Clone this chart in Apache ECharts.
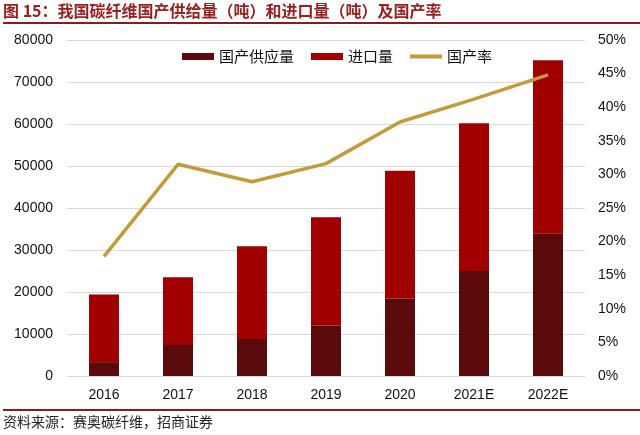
<!DOCTYPE html>
<html>
<head>
<meta charset="utf-8">
<script src="https://cdn.jsdelivr.net/npm/echarts@6/dist/echarts.min.js"></script>
<style>
  html, body { margin: 0; padding: 0; background: #fff; }
  #chart { width: 640px; height: 435px; }
</style>
</head>
<body>
<div id="chart"></div>
<script>
const years = ['2016', '2017', '2018', '2019', '2020', '2021E', '2022E']
const domestic = [3300, 7400, 8800, 12000, 18450, 25000, 34000]
const imports = [16100, 16100, 22100, 25800, 30400, 35200, 41200]
const rate = [17.8, 31.5, 28.9, 31.6, 37.8, 41.2, 44.8]

const leftTicks = { min: 0, max: 80000, interval: 10000 }
const rightTicks = { min: 0, max: 50, interval: 5 }

const chart = echarts.init(document.getElementById('chart'))

const labelFont = { fontFamily: 'Liberation Sans, Arial, sans-serif', fontSize: 14, color: '#111' }
const cjk = 'Noto Sans CJK SC, sans-serif'
// plain thick stroke for the line series legend
const lineIcon = 'path://M0,0 L32,0 L32,4 L0,4 Z'

const option = {
  backgroundColor: '#fff',
  animation: false,
  title: {
    text: '图 15：我国碳纤维国产供给量（吨）和进口量（吨）及国产率',
    left: 3,
    top: 3,
    padding: 0,
    textStyle: { fontFamily: cjk, fontSize: 16, fontWeight: 'bold', color: '#9A2020', lineHeight: 16 }
  },
  graphic: [
    { type: 'rect', shape: { x: 3, y: 22, width: 637, height: 2 }, style: { fill: '#8B1A1A' } },
    { type: 'rect', shape: { x: 3, y: 409, width: 637, height: 2 }, style: { fill: '#8B1A1A' } },
    {
      type: 'text', left: 3, top: 415,
      style: { text: '资料来源：赛奥碳纤维，招商证券', font: '14px ' + cjk, fill: '#222' }
    }
  ],
  legend: {
    top: 44,
    left: 177,
    itemGap: 17,
    itemWidth: 32,
    itemHeight: 7,
    textStyle: { fontFamily: cjk, fontSize: 15, color: '#111' },
    data: [
      { name: '国产供应量', icon: 'rect' },
      { name: '进口量', icon: 'rect' },
      { name: '国产率', icon: lineIcon, itemStyle: { color: '#C39B3A' } }
    ]
  },
  grid: { left: 67, right: 55, top: 40, bottom: 59 },
  xAxis: {
    type: 'category',
    data: years,
    axisTick: { show: false },
    axisLine: { lineStyle: { color: '#d9d9d9' } },
    axisLabel: Object.assign({ margin: 12 }, labelFont)
  },
  yAxis: [
    Object.assign({
      type: 'value',
      axisLine: { show: false },
      axisTick: { show: false },
      splitLine: { lineStyle: { color: '#d9d9d9' } },
      axisLabel: Object.assign({ margin: 14, formatter: v => String(v) }, labelFont)
    }, leftTicks),
    Object.assign({
      type: 'value',
      position: 'right',
      axisLine: { show: false },
      axisTick: { show: false },
      splitLine: { show: false },
      axisLabel: Object.assign({ margin: 13, formatter: '{value}%' }, labelFont)
    }, rightTicks)
  ],
  series: [
    {
      name: '国产供应量',
      type: 'bar',
      stack: 'total',
      barWidth: 30,
      itemStyle: { color: '#5A0A0A' },
      data: domestic
    },
    {
      name: '进口量',
      type: 'bar',
      stack: 'total',
      barWidth: 30,
      itemStyle: { color: '#A00000' },
      data: imports
    },
    {
      name: '国产率',
      type: 'line',
      yAxisIndex: 1,
      symbol: 'none',
      lineStyle: { color: '#C39B3A', width: 3.5 },
      itemStyle: { color: '#C39B3A' },
      data: rate
    }
  ]
}

chart.setOption(option)
</script>
</body>
</html>
